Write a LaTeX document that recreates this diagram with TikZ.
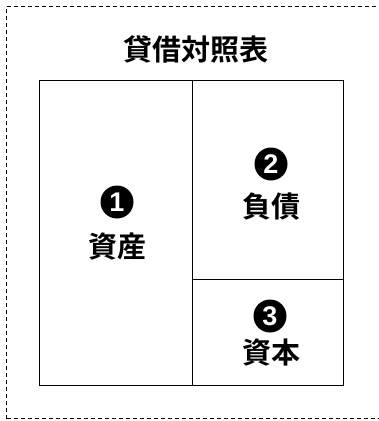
\documentclass[tikz,border=0pt]{standalone}
\usepackage{fontspec}
\newfontfamily\cjk{Noto Sans CJK JP}[BoldFont={Noto Sans CJK JP Bold}]
\newfontfamily\numfont{Liberation Sans}
\begin{document}
\begin{tikzpicture}[x=1pt,y=-1pt,
  lbl/.style={font=\cjk\bfseries\fontsize{29}{32}\selectfont, inner sep=0pt},
  num/.style={circle, fill=black, text=white, minimum size=33pt, inner sep=0pt,
    font=\numfont\bfseries\fontsize{27}{30}\selectfont},
  ttl/.style={font=\cjk\bfseries\fontsize{29}{32}\selectfont, inner sep=0pt}]
\useasboundingbox (0,0) rectangle (379,421);
\draw[line width=0.8pt, dash pattern=on 4pt off 3pt] (6.5,418.5) -- (6.5,6.5) -- (385,6.5);
\draw[line width=0.8pt, dash pattern=on 4pt off 3pt] (6.5,418.5) -- (385,418.5);
\node[ttl] (title) at (196,49.5) {貸借対照表};
\draw[line width=0.9pt] (39,80) rectangle (343,385);
\draw[line width=0.8pt] (192,80) -- (192,385);
\draw[line width=0.8pt] (192,279) -- (343,279);
\node[num] (n1) at (117,202) {1};
\node[lbl] (a1) at (117,246.5) {資産};
\node[num] (n2) at (271,164) {2};
\node[lbl] (a2) at (271,207) {負債};
\node[num] (n3) at (270,316) {3};
\node[lbl] (a3) at (271,352.5) {資本};
\end{tikzpicture}
\end{document}
